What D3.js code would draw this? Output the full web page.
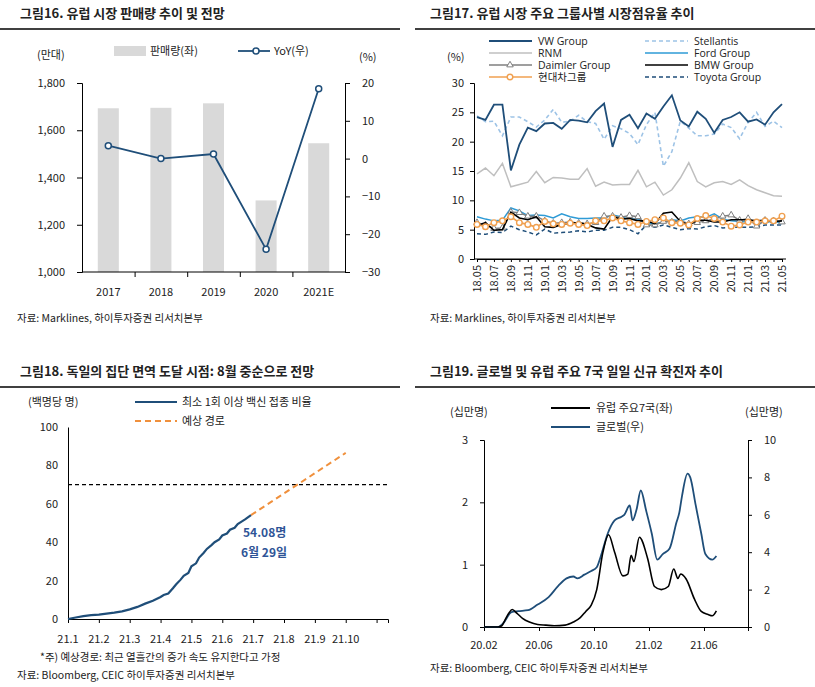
<!DOCTYPE html>
<html><head><meta charset="utf-8">
<script src="https://cdn.jsdelivr.net/npm/d3@7"></script>
<style>
body{margin:0;background:#fff}
text{font-family:"Noto Sans CJK KR","Noto Sans",sans-serif;fill:#222}
.t{font-size:13px;font-weight:bold}
.tk{font-size:11px}
.lg{font-size:10.5px;font-family:"Open Sans","Noto Sans CJK KR",sans-serif}
.src{font-size:10.5px}
</style></head><body>
<svg id="c" width="815" height="687"></svg>
<script>
// ---- data ----
var years = ["2017","2018","2019","2020","2021E"];
var sales = [1693, 1695, 1714, 1303, 1545];
var yoy = [3.4, 0, 1.2, -24, 18.5];

var months17 = ["18.05","18.06","18.07","18.08","18.09","18.10","18.11","18.12","19.01","19.02","19.03","19.04","19.05","19.06","19.07","19.08","19.09","19.10","19.11","19.12","20.01","20.02","20.03","20.04","20.05","20.06","20.07","20.08","20.09","20.10","20.11","20.12","21.01","21.02","21.03","21.04","21.05"];
var vw = [24.2,23.7,26.3,26.3,15.1,19.5,22.4,21.8,23.1,23.2,22.2,23.7,23.6,23.3,25.2,26.5,19.1,23.7,24.6,22.3,24.8,23.9,26.0,27.9,23.6,22.6,25.1,23.9,21.5,23.7,24.2,25.0,23.4,23.8,22.9,25.0,26.4];
var stellantis = [24.4,23.4,23.5,21.0,24.2,24.2,23.4,22.5,23.7,25.5,23.3,23.5,24.5,23.4,23.1,20.4,22.7,22.2,21.4,19.5,22.9,25.0,15.8,18.3,23.5,22.3,21.0,21.0,21.3,23.0,22.4,20.5,23.3,25.0,22.6,23.5,22.4];
var rnm = [14.5,15.5,14.2,16.3,12.3,12.7,13.1,14.9,13.0,13.9,13.8,13.6,13.6,15.4,12.4,13.1,12.6,12.7,12.7,15.1,12.3,13.1,10.9,11.8,13.8,16.4,13.2,12.3,13.0,13.2,12.7,13.5,12.5,11.8,11.3,10.8,10.7];
var ford = [7.2,6.8,6.5,6.6,8.7,8.2,7.4,7.5,7.4,7.0,7.7,7.2,6.9,6.9,7.0,7.0,7.5,7.2,6.8,6.8,6.1,6.0,6.3,6.7,6.5,7.0,7.2,7.1,7.7,6.8,6.5,6.4,6.3,6.5,6.2,6.5,6.0];
var daimler = [6.2,5.8,5.2,5.3,8.0,7.9,7.3,7.3,6.5,6.1,6.2,6.3,6.1,6.0,6.2,7.3,7.3,7.1,7.4,7.2,5.8,5.8,6.4,6.3,6.5,6.0,6.2,6.5,6.8,7.3,7.5,6.6,6.9,5.6,6.6,6.5,6.3];
var bmw = [5.7,6.2,4.9,5.0,8.0,7.0,6.7,7.2,5.5,5.4,5.9,6.1,6.2,5.9,5.3,5.1,7.2,6.8,6.9,6.5,6.5,6.0,7.8,8.0,6.4,5.8,6.6,6.6,6.3,6.3,6.7,6.7,6.7,6.5,6.6,6.4,6.5];
var toyota = [4.3,4.2,4.6,4.5,5.6,5.0,4.6,4.1,5.1,4.4,4.5,4.6,4.8,4.6,4.9,4.9,5.4,5.4,5.0,4.3,5.8,5.4,5.8,5.4,5.0,5.2,5.1,5.5,5.7,5.3,5.4,5.4,5.4,5.5,5.8,5.8,5.8];
var hyundai = [5.9,5.5,6.2,6.5,7.2,6.2,5.9,5.4,6.4,6.0,5.9,6.1,5.9,5.7,6.5,6.5,7.0,6.5,6.2,5.9,6.4,6.7,7.0,6.2,6.1,5.8,6.9,7.4,6.9,6.3,5.6,5.8,6.3,6.3,6.5,6.5,7.3];

// months since 2021-01-01
var vacT = [0,0.25,0.5,0.75,1,1.25,1.5,1.75,2,2.25,2.5,2.75,3,3.1,3.25,3.4,3.5,3.65,3.75,3.9,4,4.15,4.25,4.4,4.5,4.65,4.75,4.9,5,5.15,5.25,5.4,5.5,5.65,5.75,5.93];
var vacV = [0,0.8,1.5,2,2.3,2.8,3.3,4,5,6.3,8,9.5,11.5,12.5,13.3,16,18,20.5,22.5,24,27.5,29,32,34.5,36.5,38.5,40,41.5,43.5,44.5,46.5,47.5,49.5,51,52,54.08];
var fcT = [5.93, 9.0];
var fcV = [54.08, 86.5];
var vacTicks = ["21.1","21.2","21.3","21.4","21.5","21.6","21.7","21.8","21.9","21.10"];

// months since 2020-02-01
var euT = [0,1.0,1.3,1.5,1.8,2.05,2.4,2.8,3.3,3.9,4.5,5.1,5.9,6.5,7.0,7.4,7.8,8.2,8.65,9.06,9.5,10.1,10.46,10.7,10.9,11.3,11.9,12.4,12.9,13.4,13.8,14.1,14.3,14.7,15.3,15.8,16.3,16.6,16.9];
var euV = [0,0,0.02,0.1,0.22,0.28,0.22,0.14,0.08,0.04,0.03,0.02,0.03,0.08,0.15,0.25,0.35,0.6,1.2,1.48,1.2,0.82,0.85,1.15,1.05,1.44,1.1,0.65,0.6,0.65,0.93,0.78,0.85,0.77,0.45,0.25,0.2,0.18,0.26];
var glT = [0,1.0,1.4,2.0,2.5,3.2,3.9,4.7,5.4,6.0,6.5,6.8,7.3,7.8,8.2,8.5,9.0,9.5,10.0,10.2,10.6,10.8,11.1,11.4,11.8,12.2,12.6,13.0,13.5,14.0,14.2,14.4,14.8,15.0,15.4,15.8,16.1,16.6,16.9];
var glV = [0,0,0.2,0.8,0.85,0.9,1.2,1.6,2.2,2.6,2.7,2.6,2.8,3.0,3.2,3.8,5.0,5.7,5.9,6.0,6.5,5.7,6.3,7.3,6.2,5.0,3.6,3.9,4.2,5.6,6.1,7.0,8.2,8.0,6.5,5.0,3.9,3.6,3.8];
var c19Ticks = [[0,"20.02"],[4,"20.06"],[8,"20.10"],[12,"21.02"],[16,"21.06"]];

var svg = d3.select("#c");
var navy = "#1f4e79";

function header(x, y, s, x1, x2){
  svg.append("text").attr("class","t").attr("x",x).attr("y",y).text(s);
  svg.append("line").attr("x1",x1).attr("x2",x2).attr("y1",y+11).attr("y2",y+11).attr("stroke","#000").attr("stroke-width",1.3);
}
function txt(x, y, s, cls, anchor){
  return svg.append("text").attr("class",cls||"tk").attr("x",x).attr("y",y).attr("text-anchor",anchor||"start").text(s);
}
function axisStyle(g){
  g.selectAll("path,line").attr("stroke","#000");
  g.selectAll("text").attr("class","tk").style("font-size","11px");
}

// ===== 그림16 =====
header(20, 18, "그림16. 유럽 시장 판매량 추이 및 전망", 0, 400);
var x1 = d3.scaleBand().domain(years).range([82,345]).paddingInner(0.6).paddingOuter(0.3);
var yL = d3.scaleLinear().domain([1000,1800]).range([272,83]);
var yR = d3.scaleLinear().domain([-30,20]).range([272,83]);
svg.selectAll(".bar").data(sales).enter().append("rect")
  .attr("x",(d,i)=>x1(years[i])).attr("width",x1.bandwidth())
  .attr("y",d=>yL(d)).attr("height",d=>yL(1000)-yL(d)).attr("fill","#d9d9d9");
var g = svg.append("g").attr("transform","translate(82,0)").call(d3.axisLeft(yL).tickValues([1000,1200,1400,1600,1800]).tickFormat(d3.format(",")).tickSize(5).tickPadding(12));
axisStyle(g);
g = svg.append("g").attr("transform","translate(345,0)").call(d3.axisRight(yR).ticks(5).tickSize(5).tickPadding(12));
axisStyle(g);
var xb = d3.scaleLinear().domain([0,5]).range([82,345]);
g = svg.append("g").attr("transform","translate(0,272)").call(d3.axisBottom(xb).tickValues([1,2,3,4]).tickFormat("").tickSize(5));
axisStyle(g); g.select(".domain").remove();
svg.append("line").attr("x1",82).attr("x2",345).attr("y1",272).attr("y2",272).attr("stroke","#000");
years.forEach((d,i)=>txt(x1(d)+x1.bandwidth()/2, 296, d, "tk", "middle"));
var ln = d3.line().x((d,i)=>x1(years[i])+x1.bandwidth()/2).y(d=>yR(d));
svg.append("path").attr("d",ln(yoy)).attr("fill","none").attr("stroke",navy).attr("stroke-width",1.8);
svg.selectAll(".yo").data(yoy).enter().append("circle")
  .attr("cx",(d,i)=>x1(years[i])+x1.bandwidth()/2).attr("cy",d=>yR(d)).attr("r",3)
  .attr("fill","#fff").attr("stroke",navy).attr("stroke-width",1.5);
svg.append("rect").attr("x",114).attr("y",46).attr("width",32).attr("height",10).attr("fill","#d9d9d9");
txt(150, 55, "판매량(좌)");
svg.append("line").attr("x1",238).attr("x2",270).attr("y1",51).attr("y2",51).attr("stroke",navy).attr("stroke-width",1.8);
svg.append("circle").attr("cx",256).attr("cy",51).attr("r",3).attr("fill","#fff").attr("stroke",navy).attr("stroke-width",1.5);
txt(274, 55, "YoY(우)");
txt(37, 59, "(만대)"); txt(359, 61, "(%)");
txt(17, 322, "자료: Marklines, 하이투자증권 리서치본부", "src");

// ===== 그림17 =====
header(430, 18, "그림17. 유럽 시장 주요 그룹사별 시장점유율 추이", 415, 815);
var x2 = d3.scaleLinear().domain([0,36]).range([477,782]);
var y2 = d3.scaleLinear().domain([0,30]).range([259,83]);
g = svg.append("g").attr("transform","translate(474,0)").call(d3.axisLeft(y2).ticks(6).tickSize(4).tickPadding(6));
axisStyle(g);
g = svg.append("g").attr("transform","translate(0,259)").call(d3.axisBottom(x2).tickValues(d3.range(0,37)).tickFormat("").tickSize(3));
axisStyle(g);
svg.append("line").attr("x1",474).attr("x2",786).attr("y1",259).attr("y2",259).attr("stroke","#000");
months17.forEach((m,i)=>{ if(i%2==0) svg.append("text").attr("class","tk")
  .attr("transform","translate("+(x2(i)+4)+",265) rotate(-90)").attr("text-anchor","end").text(m); });
var series17 = [
  {n:"VW Group", d:vw, c:"#1f4e79", w:1.8, dash:null},
  {n:"Stellantis", d:stellantis, c:"#9dc3e6", w:1.6, dash:"4,3"},
  {n:"RNM", d:rnm, c:"#bfbfbf", w:1.5, dash:null},
  {n:"Ford Group", d:ford, c:"#2e9bd6", w:1.5, dash:null},
  {n:"Daimler Group", d:daimler, c:"#7f7f7f", w:1.5, dash:null, m:"tri"},
  {n:"BMW Group", d:bmw, c:"#000", w:1.6, dash:null},
  {n:"Toyota Group", d:toyota, c:"#1f4e79", w:1.5, dash:"4,3"},
  {n:"현대차그룹", d:hyundai, c:"#f0a050", w:1.6, dash:null, m:"circ"}
];
var l2 = d3.line().x((d,i)=>x2(i)).y(d=>y2(d));
var order = [2,1,0,3,6,4,5,7];
order.forEach(k=>{
  var s = series17[k];
  svg.append("path").attr("d",l2(s.d)).attr("fill","none").attr("stroke",s.c).attr("stroke-width",s.w).attr("stroke-dasharray",s.dash);
  if(s.m=="tri") svg.selectAll(null).data(s.d).enter().append("path")
    .attr("d",d3.symbol(d3.symbolTriangle,18)).attr("transform",(d,i)=>"translate("+x2(i)+","+y2(d)+")")
    .attr("fill","#fff").attr("stroke",s.c).attr("stroke-width",1);
  if(s.m=="circ") svg.selectAll(null).data(s.d).enter().append("circle")
    .attr("cx",(d,i)=>x2(i)).attr("cy",d=>y2(d)).attr("r",2.8)
    .attr("fill","#fff").attr("stroke",s.c).attr("stroke-width",1.4);
});
var legPos = [[489,41],[645,41],[489,53],[645,53],[489,65],[645,65],[489,77],[645,77]];
var legOrd = [0,1,2,3,4,5,7,6];
legOrd.forEach((k,j)=>{
  var s = series17[k], p = legPos[j];
  var lx1 = p[0], lx2 = p[0]+43;
  svg.append("line").attr("x1",lx1).attr("x2",lx2).attr("y1",p[1]).attr("y2",p[1]).attr("stroke",s.c).attr("stroke-width",s.w).attr("stroke-dasharray",s.dash);
  if(s.m=="tri") svg.append("path").attr("d",d3.symbol(d3.symbolTriangle,18)).attr("transform","translate("+(lx1+21)+","+p[1]+")").attr("fill","#fff").attr("stroke",s.c);
  if(s.m=="circ") svg.append("circle").attr("cx",lx1+21).attr("cy",p[1]).attr("r",2.8).attr("fill","#fff").attr("stroke",s.c).attr("stroke-width",1.4);
  txt(j%2==0 ? 538 : 694, p[1]+4, s.n, "lg");
});
txt(447, 61, "(%)");
txt(430, 322, "자료: Marklines, 하이투자증권 리서치본부", "src");

// ===== 그림18 =====
header(20, 376, "그림18. 독일의 집단 면역 도달 시점: 8월 중순으로 전망", 0, 400);
var x3 = d3.scaleLinear().domain([0,10.37]).range([68,388]);
var y3 = d3.scaleLinear().domain([0,100]).range([619,427]);
g = svg.append("g").attr("transform","translate(68,0)").call(d3.axisLeft(y3).ticks(5).tickSize(0).tickPadding(10));
axisStyle(g);
g = svg.append("g").attr("transform","translate(0,619)").call(d3.axisBottom(x3).tickValues(d3.range(0,11)).tickFormat("").tickSize(4));
axisStyle(g);
vacTicks.forEach((d,i)=>txt(x3(i), 643, d, "tk", "middle"));
svg.append("line").attr("x1",x3(0)).attr("x2",x3(10.37)).attr("y1",y3(70)).attr("y2",y3(70)).attr("stroke","#000").attr("stroke-width",1.3).attr("stroke-dasharray","4,3");
var l3 = d3.line().x(d=>x3(d[0])).y(d=>y3(d[1]));
svg.append("path").attr("d",l3(fcT.map((t,i)=>[t,fcV[i]]))).attr("fill","none").attr("stroke","#f0903c").attr("stroke-width",2).attr("stroke-dasharray","6,4");
svg.append("path").attr("d",l3(vacT.map((t,i)=>[t,vacV[i]]))).attr("fill","none").attr("stroke",navy).attr("stroke-width",2.2);
txt(243, 537, "54.08명", "tk").style("fill","#2f5597").style("font-weight","bold").style("font-size","12px");
txt(241, 557, "6월 29일", "tk").style("fill","#2f5597").style("font-weight","bold").style("font-size","12px");
svg.append("line").attr("x1",135).attr("x2",177).attr("y1",402).attr("y2",402).attr("stroke",navy).attr("stroke-width",2.2);
txt(182, 406, "최소 1회 이상 백신 접종 비율");
svg.append("line").attr("x1",135).attr("x2",177).attr("y1",421).attr("y2",421).attr("stroke","#f0903c").attr("stroke-width",2).attr("stroke-dasharray","6,4");
txt(182, 425, "예상 경로");
txt(28, 406, "(백명당 명)");
txt(40, 661, "*주) 예상경로: 최근 열흘간의 증가 속도 유지한다고 가정", "src");
txt(17, 679, "자료: Bloomberg, CEIC 하이투자증권 리서치본부", "src");

// ===== 그림19 =====
header(430, 376, "그림19. 글로벌 및 유럽 주요 7국 일일 신규 확진자 추이", 415, 815);
var x4 = d3.scaleLinear().domain([0,19.2]).range([484,748]);
var y4L = d3.scaleLinear().domain([0,3]).range([627,440]);
var y4R = d3.scaleLinear().domain([0,10]).range([627,440]);
g = svg.append("g").attr("transform","translate(484,0)").call(d3.axisLeft(y4L).ticks(3).tickSize(4).tickPadding(12));
axisStyle(g);
g = svg.append("g").attr("transform","translate(748,0)").call(d3.axisRight(y4R).ticks(5).tickSize(4).tickPadding(12));
axisStyle(g);
g = svg.append("g").attr("transform","translate(0,627)").call(d3.axisBottom(x4).tickValues([4,8,12,16]).tickFormat("").tickSize(4));
axisStyle(g);
c19Ticks.forEach(d=>txt(x4(d[0]), 649, d[1], "tk", "middle"));
var l4 = d3.line().curve(d3.curveMonotoneX);
svg.append("path").attr("d",l4(glT.map((t,i)=>[x4(t),y4R(glV[i])]))).attr("fill","none").attr("stroke",navy).attr("stroke-width",1.8);
svg.append("path").attr("d",l4(euT.map((t,i)=>[x4(t),y4L(euV[i])]))).attr("fill","none").attr("stroke","#000").attr("stroke-width",1.6);
svg.append("line").attr("x1",551).attr("x2",590).attr("y1",408).attr("y2",408).attr("stroke","#000").attr("stroke-width",1.8);
txt(596, 412, "유럽 주요7국(좌)");
svg.append("line").attr("x1",551).attr("x2",590).attr("y1",427).attr("y2",427).attr("stroke",navy).attr("stroke-width",1.8);
txt(596, 431, "글로벌(우)");
txt(450, 416, "(십만명)"); txt(745, 416, "(십만명)");
txt(430, 672, "자료: Bloomberg, CEIC 하이투자증권 리서치본부", "src");
</script>
</body></html>
